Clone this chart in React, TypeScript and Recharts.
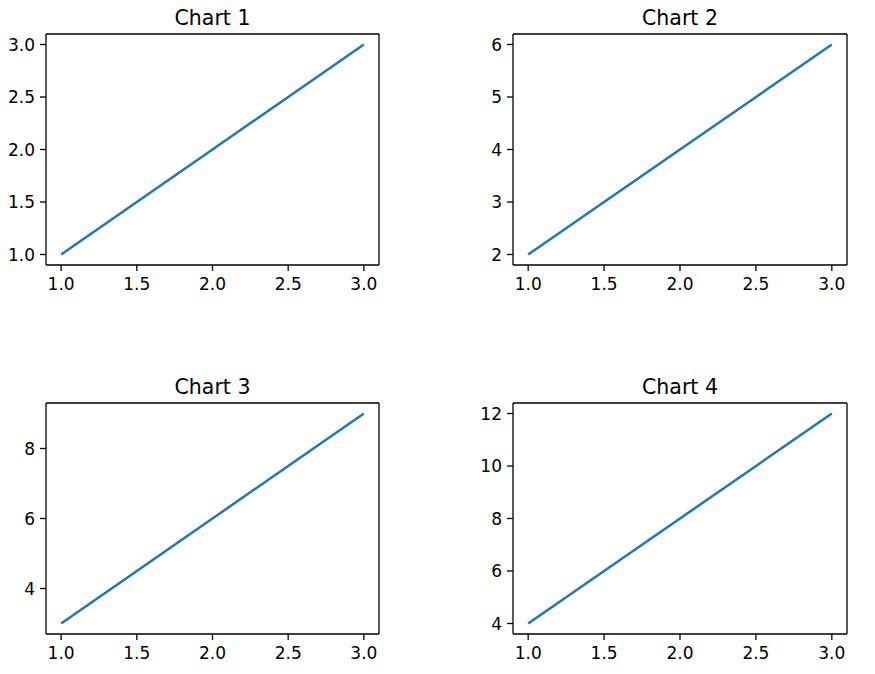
import React from 'react';
import { LineChart, Line, XAxis, YAxis } from 'recharts';

const xValues = [1, 2, 3];
const series1 = [1, 2, 3];
const series2 = [2, 4, 6];
const series3 = [3, 6, 9];
const series4 = [4, 8, 12];

const xTicks = [1.0, 1.5, 2.0, 2.5, 3.0];
const yTicks1 = [1.0, 1.5, 2.0, 2.5, 3.0];
const yTicks2 = [2, 3, 4, 5, 6];
const yTicks3 = [4, 6, 8];
const yTicks4 = [4, 6, 8, 10, 12];

const titles = ['Chart 1', 'Chart 2', 'Chart 3', 'Chart 4'];

const FONT = '"DejaVu Sans", sans-serif';

type Panel = {
  title: string;
  ys: number[];
  yTicks: number[];
  yDigits: number;
  box: { x: number; y: number; w: number; h: number };
  plot: { top: number; right: number; bottom: number; left: number };
};

function padDomain(vals: number[]): [number, number] {
  const lo = Math.min(...vals);
  const hi = Math.max(...vals);
  const p = (hi - lo) * 0.05;
  return [lo - p, hi + p];
}

// plot = distance of the plot frame from each edge of the panel box
const panels: Panel[] = [
  { title: titles[0], ys: series1, yTicks: yTicks1, yDigits: 1, box: { x: 0, y: 0, w: 437, h: 337 }, plot: { top: 34, right: 58, bottom: 72, left: 46 } },
  { title: titles[1], ys: series2, yTicks: yTicks2, yDigits: 0, box: { x: 437, y: 0, w: 438, h: 337 }, plot: { top: 34, right: 28, bottom: 72, left: 76 } },
  { title: titles[2], ys: series3, yTicks: yTicks3, yDigits: 0, box: { x: 0, y: 337, w: 437, h: 337 }, plot: { top: 66, right: 58, bottom: 40, left: 46 } },
  { title: titles[3], ys: series4, yTicks: yTicks4, yDigits: 0, box: { x: 437, y: 337, w: 438, h: 337 }, plot: { top: 66, right: 28, bottom: 40, left: 76 } },
];

const Y_W = 40;
const X_H = 30;
const EDGE = 1;

const tickStyle = { fill: '#000', fontSize: 17, fontFamily: FONT };
const axisLineStyle = { stroke: '#000', strokeWidth: 1.3 };

function PanelChart({ p }: { p: Panel }) {
  const data = xValues.map((x, i) => ({ x, y: p.ys[i] }));
  const xDomain = padDomain(xValues);
  const yDomain = padDomain(p.ys);
  const margin = {
    top: p.plot.top - EDGE,
    right: p.plot.right - EDGE,
    bottom: p.plot.bottom - X_H,
    left: p.plot.left - Y_W,
  };
  return (
    <div style={{ position: 'absolute', left: p.box.x, top: p.box.y }}>
      <LineChart width={p.box.w} height={p.box.h} data={data} margin={margin}>
        <XAxis
          xAxisId="b"
          dataKey="x"
          type="number"
          domain={xDomain}
          allowDataOverflow
          ticks={xTicks}
          interval={0}
          tickFormatter={(v: number) => v.toFixed(1)}
          height={X_H}
          tickSize={6}
          tickMargin={7}
          stroke="#000"
          tick={tickStyle}
          tickLine={{ stroke: '#000', strokeWidth: 1.3 }}
          axisLine={axisLineStyle}
        />
        <XAxis
          xAxisId="t"
          dataKey="x"
          type="number"
          orientation="top"
          domain={xDomain}
          allowDataOverflow
          height={EDGE}
          tick={false}
          tickLine={false}
          axisLine={axisLineStyle}
        />
        <YAxis
          yAxisId="l"
          type="number"
          domain={yDomain}
          allowDataOverflow
          ticks={p.yTicks}
          interval={0}
          tickFormatter={(v: number) => v.toFixed(p.yDigits)}
          width={Y_W}
          tickSize={6}
          tickMargin={5}
          stroke="#000"
          tick={tickStyle}
          tickLine={{ stroke: '#000', strokeWidth: 1.3 }}
          axisLine={axisLineStyle}
        />
        <YAxis
          yAxisId="r"
          type="number"
          orientation="right"
          domain={yDomain}
          allowDataOverflow
          width={EDGE}
          tick={false}
          tickLine={false}
          axisLine={axisLineStyle}
        />
        <Line
          xAxisId="b"
          yAxisId="l"
          dataKey="y"
          type="linear"
          stroke="#1f77b4"
          strokeWidth={2.5}
          dot={false}
          activeDot={false}
          isAnimationActive={false}
        />
      </LineChart>
    </div>
  );
}

export default function App() {
  return (
    <div style={{ position: 'relative', width: 875, height: 674, margin: -8, background: '#fff', overflow: 'hidden' }}>
      {panels.map((p, i) => (
        <PanelChart key={i} p={p} />
      ))}
      <svg width={875} height={674} style={{ position: 'absolute', left: 0, top: 0, pointerEvents: 'none' }}>
        {panels.map((p, i) => {
          const cx = p.box.x + p.plot.left + (p.box.w - p.plot.left - p.plot.right) / 2;
          const baseline = p.box.y + p.plot.top - 9;
          return (
            <text key={i} x={cx} y={baseline} textAnchor="middle" fontFamily={FONT} fontSize={20.5} fill="#000">
              {p.title}
            </text>
          );
        })}
      </svg>
    </div>
  );
}
